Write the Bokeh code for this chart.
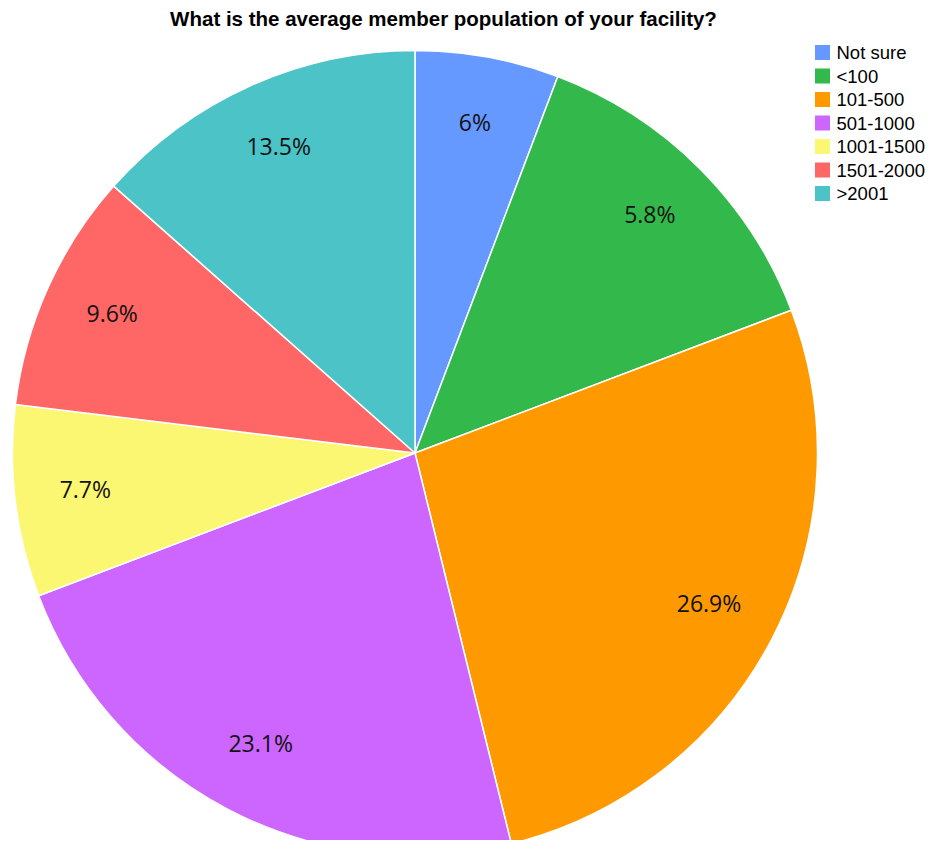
import math
from bokeh.plotting import figure
from bokeh.models import Range1d, ColumnDataSource
from bokeh.core.properties import value
from bokeh.embed import file_html
from bokeh.resources import INLINE

# ---- data ----
title_text = "What is the average member population of your facility?"
categories = ["Not sure", "<100", "101-500", "501-1000", "1001-1500", "1501-2000", ">2001"]
counts = [3, 7, 14, 12, 4, 5, 7]
slice_labels = ["6%", "5.8%", "26.9%", "23.1%", "7.7%", "9.6%", "13.5%"]
colors = ["#6699ff", "#33b94b", "#ff9900", "#cc66ff", "#fbf772", "#ff6666", "#4bc3c7"]

# ---- layout (pixel coordinates, y negated) ----
W, H = 925, 840
CX, CY, R = 414.5, -452.5, 402.5
LABEL_R = 0.825 * R

total = float(sum(counts))
starts, ends, lx, ly = [], [], [], []
cum = 0.0
for c in counts:
    a0 = math.pi / 2 - 2 * math.pi * cum / total
    a1 = math.pi / 2 - 2 * math.pi * (cum + c) / total
    starts.append(a0)
    ends.append(a1)
    mid = (a0 + a1) / 2
    lx.append(CX + LABEL_R * math.cos(mid))
    ly.append(CY + LABEL_R * math.sin(mid))
    cum += c

src = ColumnDataSource(dict(cat=categories, start=starts, end=ends, color=colors,
                            lx=lx, ly=ly, lab=slice_labels))

p = figure(width=W, height=H, output_backend="svg", toolbar_location=None,
           x_range=Range1d(0, W), y_range=Range1d(-H, 0),
           min_border=0, outline_line_color=None, background_fill_color="white",
           border_fill_color="white")
p.axis.visible = False
p.grid.visible = False

p.wedge(x=CX, y=CY, radius=R, start_angle="start", end_angle="end", direction="clock",
        fill_color="color", line_color="white", line_width=1.5, source=src)

p.text(x="lx", y="ly", text="lab", source=src, text_align="center", text_baseline="middle",
       y_offset=-4,
       text_font=value("Open Sans"), text_font_size="23px", text_color="#111111")

# title
p.text(x=[443], y=[-18], text=[title_text], text_align="center", text_baseline="middle",
       text_font=value("Liberation Sans"), text_font_style="bold", text_font_size="20.5px",
       text_color="black")

# legend
leg_y = [-(52 + 23.5 * i) for i in range(len(categories))]
lsrc = ColumnDataSource(dict(y=leg_y, color=colors, cat=categories))
p.rect(x=822, y="y", width=15, height=15, fill_color="color", line_color=None, source=lsrc)
p.text(x=836, y="y", text="cat", source=lsrc, text_align="left", text_baseline="middle",
       text_font=value("Liberation Sans"), text_font_size="18.5px", text_color="black")

open("out.html", "w").write(file_html(p, INLINE))
